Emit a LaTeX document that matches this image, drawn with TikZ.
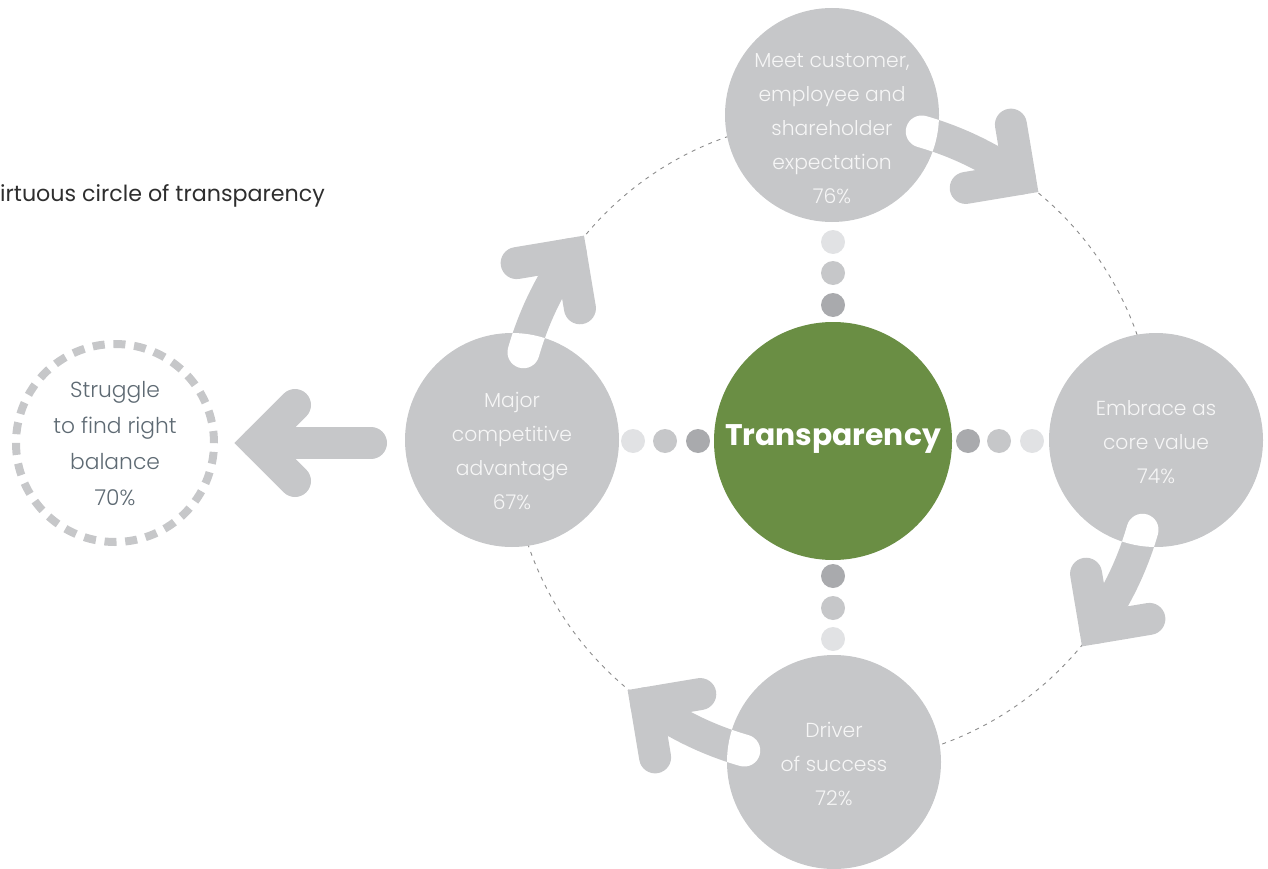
\documentclass[tikz,border=0pt]{standalone}
\usepackage{fontspec}
\usetikzlibrary{calc}
\IfFontExistsTF{Poppins Light}{\newfontfamily\circfont{Poppins Light}}{\newfontfamily\circfont{Poppins}}
\newfontfamily\mainfont{Poppins}
\definecolor{nodegray}{HTML}{C6C7C9}
\definecolor{dotdark}{HTML}{A9AAAD}
\definecolor{dotlight}{HTML}{E1E2E4}
\definecolor{green}{HTML}{6A8E44}
\definecolor{slate}{HTML}{5E6A73}
\definecolor{titlegray}{HTML}{2E2E2E}
\definecolor{ringgray}{HTML}{8C8C8C}
\definecolor{txtwhite}{HTML}{F6F6F6}
\tikzset{
  bignode/.style={circle, fill=nodegray, minimum size=214pt, inner sep=0pt},
  ctext/.style={align=center, text=txtwhite, font=\circfont\fontsize{20.3}{34}\selectfont},
  dashring/.style={draw=ringgray, line width=0.9pt, dash pattern=on 4pt off 5pt},
  shaft/.style={draw=nodegray, line width=32pt, line cap=round},
  head/.style={draw=nodegray, line width=32pt, line cap=round, line join=miter, miter limit=10},
  dot/.style={circle, minimum size=24pt, inner sep=0pt},
}
\begin{document}
\begin{tikzpicture}[x=1pt,y=1pt]
\useasboundingbox (0,0) rectangle (1268,-869);
\coordinate (C) at (833,-441);
\draw[dashring] (C) circle (322);

% cycle nodes
\node[bignode] (top) at (832,-115) {};
\node[bignode] (right) at (1156,-440) {};
\node[bignode] (bottom) at (834,-762) {};
\node[bignode] (left) at (512,-440) {};

% curved arrows
\foreach \n/\a in {top/90, right/0, bottom/270, left/180} {
  \pgfmathsetmacro\s{\a-16}
  \pgfmathsetmacro\t{\a-35.5}
  \coordinate (\n-s) at ($(C)+(\s:322)$);
  \coordinate (\n-t) at ($(C)+(\t:322)$);
  \draw[shaft] (\n-s) arc[start angle=\s, end angle=\t, radius=322];
  \begin{scope}
    \clip (\n.center) circle (107);
    \draw[shaft, draw=white] (\n-s) arc[start angle=\s, end angle=\t, radius=322];
  \end{scope}
  \coordinate (\n-a) at ($(\n-t)+(\t+45:55)$);
  \coordinate (\n-b) at ($(\n-t)+(\t+135:55)$);
  \draw[head] (\n-a) -- (\n-t) -- (\n-b);
}

% texts in cycle nodes
\node[ctext] (toptext) at (832,-129) {Meet customer,\\employee and\\shareholder\\expectation\\76\%};
\node[ctext] (righttext) at (1156,-442) {Embrace as\\core value\\74\%};
\node[ctext] (bottomtext) at (834,-764) {Driver\\of success\\72\%};
\node[ctext] (lefttext) at (512,-451) {Major\\competitive\\advantage\\67\%};

% centre
\node[circle, fill=green, minimum size=238pt, inner sep=0pt] (centre) at (833,-441) {};
\node[text=white, font=\mainfont\bfseries\fontsize{29.8}{34}\selectfont] (centretext) at (833,-439) {Transparency};

% dots
\node[dot, fill=dotlight] (dt1) at (833,-242) {};
\node[dot, fill=nodegray] (dt2) at (833,-273) {};
\node[dot, fill=dotdark] (dt3) at (833,-305) {};
\node[dot, fill=dotdark] (db1) at (833,-576) {};
\node[dot, fill=nodegray] (db2) at (833,-608) {};
\node[dot, fill=dotlight] (db3) at (833,-639) {};
\node[dot, fill=dotlight] (dl1) at (633,-441) {};
\node[dot, fill=nodegray] (dl2) at (665,-441) {};
\node[dot, fill=dotdark] (dl3) at (698,-441) {};
\node[dot, fill=dotdark] (dr1) at (968,-441) {};
\node[dot, fill=nodegray] (dr2) at (999,-441) {};
\node[dot, fill=dotlight] (dr3) at (1032,-441) {};

% struggle
\node[circle, draw=nodegray, line width=8pt, minimum size=198pt, inner sep=0pt, dash pattern=on 12pt off 8.73pt] (struggle) at (115,-443) {};
\node[align=center, text=slate, font=\circfont\fontsize{21.8}{36}\selectfont] (struggletext) at (115,-444) {Struggle\\to find right\\balance\\70\%};

% straight arrow to struggle
\coordinate (la-tail) at (371,-443);
\coordinate (la-tip) at (257,-443);
\coordinate (la-a) at (295,-405);
\coordinate (la-b) at (295,-481);
\draw[shaft] (la-tail) -- (la-tip);
\draw[head] (la-a) -- (la-tip) -- (la-b);

% title
\node[anchor=west, text=titlegray, font=\mainfont\fontsize{22.2}{26}\selectfont, inner sep=0pt] (title) at (0,-196) {irtuous circle of transparency};
\end{tikzpicture}
\end{document}
